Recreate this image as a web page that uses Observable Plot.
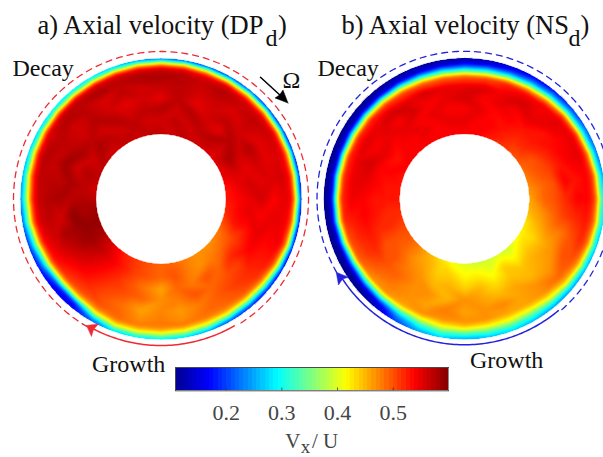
<!DOCTYPE html>
<html>
<head>
<meta charset="utf-8">
<script src="https://cdn.jsdelivr.net/npm/d3@7"></script>
<script src="https://cdn.jsdelivr.net/npm/@observablehq/plot@0.6"></script>
<style>
html,body{margin:0;padding:0;background:#fff}
#fig{position:relative;width:603px;height:457px;overflow:hidden}
#fig svg{position:absolute;background:transparent}
</style>
</head>
<body>
<div id="fig"></div>
<script>
// angle clockwise from the top of the annulus, one column every 10 degrees
const angles = d3.range(0, 360, 10);
// radius as a fraction of the outer radius
const ringRadii = [1, .985, .97, .955, .94, .92, .90, .87, .80, .72, .64, .56, .459];

// Panel a) DPd: axial velocity per ring
const aR100 = [.20,.20,.19,.19,.19,.18,.18,.17,.17,.16,.16,.16,.16,.17,.18,.20,.24,.27,.28,.28,.27,.21,.165,.165,.175,.19,.21,.23,.25,.26,.27,.28,.28,.28,.26,.23];
const aR985 = [.29,.29,.28,.28,.28,.27,.26,.26,.25,.25,.24,.24,.23,.22,.22,.24,.28,.30,.31,.31,.30,.23,.165,.165,.19,.22,.25,.27,.28,.30,.30,.31,.31,.31,.30,.30];
const aR97 = [.38,.38,.37,.37,.37,.36,.35,.35,.34,.34,.33,.33,.30,.28,.28,.30,.33,.35,.36,.36,.35,.27,.17,.17,.22,.26,.30,.31,.33,.35,.36,.37,.37,.37,.37,.38];
const aR955 = [.46,.46,.45,.45,.45,.45,.44,.44,.43,.43,.42,.42,.38,.35,.34,.36,.38,.40,.40,.41,.40,.33,.20,.20,.26,.31,.35,.37,.40,.42,.44,.45,.45,.45,.46,.46];
const aR94 = [.52,.52,.51,.52,.51,.51,.51,.50,.50,.50,.49,.48,.44,.41,.40,.41,.42,.43,.44,.44,.44,.39,.27,.26,.31,.36,.41,.43,.46,.48,.50,.51,.52,.52,.52,.52];
const aR92 = [.56,.56,.55,.56,.55,.55,.55,.54,.54,.54,.53,.52,.50,.47,.46,.46,.46,.47,.47,.47,.47,.44,.38,.36,.40,.44,.49,.50,.52,.54,.55,.56,.56,.56,.56,.56];
const aR90 = [.57,.57,.56,.57,.56,.56,.56,.55,.55,.55,.54,.54,.52,.50,.49,.48,.48,.48,.48,.48,.49,.48,.46,.45,.48,.51,.53,.54,.55,.56,.56,.57,.57,.57,.57,.57];
const aR87 = [.58,.575,.565,.575,.565,.57,.56,.555,.56,.55,.55,.545,.53,.515,.50,.49,.485,.47,.48,.47,.49,.50,.50,.51,.53,.545,.56,.565,.57,.575,.565,.575,.57,.58,.57,.58];
const aR80 = [.565,.57,.56,.565,.555,.565,.55,.55,.555,.54,.55,.54,.53,.52,.51,.495,.48,.465,.475,.46,.485,.50,.52,.53,.55,.56,.57,.575,.57,.565,.57,.56,.57,.555,.57,.56];
const aR72 = [.55,.57,.55,.56,.57,.56,.575,.56,.55,.56,.54,.55,.54,.51,.50,.49,.50,.48,.47,.49,.50,.51,.53,.55,.565,.58,.56,.58,.57,.585,.57,.56,.575,.56,.55,.56];
const aR64 = [.575,.56,.575,.56,.55,.575,.56,.55,.56,.55,.55,.53,.52,.52,.49,.50,.48,.49,.46,.48,.50,.52,.54,.56,.58,.585,.59,.57,.58,.56,.58,.57,.56,.575,.56,.57];
const aR56 = [.56,.57,.56,.57,.575,.56,.58,.56,.55,.54,.54,.53,.50,.49,.48,.47,.48,.50,.49,.50,.51,.53,.55,.57,.585,.59,.58,.575,.57,.575,.56,.58,.57,.56,.57,.56];
const aR46 = [.57,.56,.57,.56,.56,.55,.55,.55,.53,.53,.52,.50,.48,.47,.47,.47,.48,.49,.49,.50,.51,.52,.54,.56,.58,.59,.585,.57,.56,.57,.57,.56,.56,.57,.56,.57];

// Panel b) NSd: axial velocity per ring
const bR100 = [.12,.13,.14,.16,.17,.19,.21,.22,.24,.26,.27,.26,.25,.24,.24,.25,.27,.26,.25,.27,.24,.20,.14,.115,.11,.11,.11,.115,.115,.115,.115,.115,.115,.12,.12,.12];
const bR985 = [.13,.14,.16,.18,.20,.22,.24,.25,.27,.29,.30,.29,.28,.27,.27,.28,.29,.28,.27,.29,.26,.21,.13,.11,.11,.11,.11,.11,.11,.11,.11,.11,.115,.12,.12,.125];
const bR97 = [.15,.16,.18,.21,.23,.25,.27,.29,.31,.33,.34,.33,.32,.31,.30,.30,.31,.31,.30,.31,.28,.22,.14,.115,.11,.11,.115,.115,.115,.115,.12,.12,.12,.13,.135,.14];
const bR955 = [.18,.19,.21,.24,.27,.30,.32,.35,.38,.40,.41,.40,.38,.36,.34,.33,.34,.34,.34,.34,.30,.25,.17,.14,.13,.13,.14,.135,.14,.14,.145,.15,.15,.16,.165,.17];
const bR94 = [.22,.24,.26,.29,.33,.37,.40,.43,.46,.47,.47,.45,.43,.41,.38,.36,.37,.37,.37,.37,.33,.28,.22,.19,.17,.18,.19,.18,.19,.19,.20,.20,.20,.21,.21,.22];
const bR92 = [.29,.30,.33,.37,.42,.47,.49,.50,.51,.51,.50,.49,.47,.45,.42,.40,.41,.41,.42,.41,.38,.33,.30,.27,.25,.27,.29,.29,.30,.30,.30,.30,.30,.30,.29,.29];
const bR90 = [.37,.39,.43,.46,.49,.52,.53,.53,.53,.53,.52,.51,.49,.47,.45,.43,.43,.44,.45,.44,.42,.40,.38,.35,.35,.39,.42,.42,.41,.42,.41,.42,.41,.40,.38,.37];
const bR87 = [.49,.50,.52,.53,.54,.55,.55,.55,.54,.54,.53,.52,.50,.49,.47,.46,.46,.47,.47,.47,.47,.46,.47,.47,.49,.50,.52,.52,.52,.52,.52,.52,.51,.50,.49,.49];
const bR80 = [.55,.555,.545,.56,.545,.55,.54,.545,.53,.54,.52,.50,.50,.47,.47,.46,.475,.47,.46,.48,.46,.47,.48,.49,.51,.52,.53,.545,.55,.55,.555,.55,.56,.55,.56,.55];
const bR72 = [.56,.54,.55,.54,.55,.53,.535,.53,.54,.52,.51,.48,.47,.46,.45,.46,.45,.46,.47,.45,.47,.47,.49,.50,.52,.53,.54,.54,.55,.56,.54,.55,.54,.56,.54,.55];
const bR64 = [.54,.55,.535,.54,.53,.53,.52,.51,.50,.50,.49,.475,.455,.455,.445,.445,.43,.45,.44,.455,.45,.47,.48,.50,.50,.52,.53,.53,.54,.54,.55,.54,.55,.54,.55,.54];
const bR56 = [.55,.54,.54,.53,.52,.52,.50,.50,.49,.49,.47,.455,.435,.44,.42,.44,.41,.425,.42,.44,.44,.46,.47,.49,.50,.52,.52,.53,.53,.54,.53,.54,.54,.55,.54,.55];
const bR46 = [.54,.54,.53,.52,.51,.50,.49,.48,.47,.46,.45,.43,.42,.41,.39,.40,.39,.39,.40,.41,.43,.45,.47,.49,.50,.51,.52,.53,.53,.53,.54,.54,.54,.54,.54,.54];

const aRings = [aR100,aR985,aR97,aR955,aR94,aR92,aR90,aR87,aR80,aR72,aR64,aR56,aR46];
const bRings = [bR100,bR985,bR97,bR955,bR94,bR92,bR90,bR87,bR80,bR72,bR64,bR56,bR46];

// colour bar
const colorDomain = [0.109, 0.6];
const colorTicks = [0.2, 0.3, 0.4, 0.5];
const jetStops = ["#00008f","#0000ff","#0080ff","#00ffff","#80ff80","#ffff00","#ff8000","#ff0000","#800000"];
const barSteps = 64;

// layout
const serif = "'Liberation Serif','Times New Roman',serif";
const outerR = 141, holeR = 64.6, guideR = 147.5;
const centerA = [160.5, 198.5], centerB = [464, 198.3];
const red = "#ee2b33", blue = "#2222dd";

const jet = d3.piecewise(d3.interpolateRgb, jetStops);
const color = {type: "linear", domain: colorDomain, interpolate: jet, clamp: true};

function cells(rings, c) {
  return rings.flatMap((vals, k) => vals.map((v, i) => {
    const t = angles[i] * Math.PI / 180, r = ringRadii[k] * outerR;
    return {x: c[0] + r * Math.sin(t), y: c[1] - r * Math.cos(t), v};
  }));
}
// barycentric interpolation, softened a little, with everything off the annulus left empty
function annulus(c) {
  const base = Plot.interpolatorBarycentric();
  return (index, w, h, X, Y, V) => {
    const W = Float64Array.from(base(index, w, h, X, Y, V));
    if (d3.blur2) d3.blur2({data: W, width: w, height: h}, 0.8);
    for (let j = 0, i = 0; j < h; ++j) for (let k = 0; k < w; ++k, ++i) {
      const d = Math.hypot(k + .5 - c[0], j + .5 - c[1]);
      if (d > outerR || d < holeR) W[i] = NaN;
    }
    return W;
  };
}
function arc(c, r, from, to) {
  return d3.range(from, to + 0.5, 1).map(d => {
    const t = d * Math.PI / 180;
    return {x: c[0] + r * Math.sin(t), y: c[1] - r * Math.cos(t)};
  });
}
const heads = [
  {color: red, pts: [[86,325],[98,323.5],[93,329],[91,336],[86,325]]},
  {color: blue, pts: [[335.7,271.7],[348,276.7],[342,278.5],[338,284.5],[335.7,271.7]]},
  {color: "black", pts: [[287.5,102.5],[274.5,97.5],[279,94.5],[282.5,89.5],[287.5,102.5]]}
];
const labels = [
  {t: "a) Axial velocity (DP", x: 37, y: 33, s: 26.5},
  {t: "d", x: 265, y: 45, s: 24},
  {t: ")", x: 277.5, y: 33, s: 26.5},
  {t: "b) Axial velocity (NS", x: 341, y: 33, s: 26.5},
  {t: "d", x: 568, y: 45, s: 24},
  {t: ")", x: 580, y: 33, s: 26.5},
  {t: "Decay", x: 12, y: 75, s: 24},
  {t: "Decay", x: 317, y: 75, s: 24},
  {t: "Growth", x: 91.5, y: 371, s: 24},
  {t: "Growth", x: 469.5, y: 367, s: 24},
  {t: "Ω", x: 282, y: 87, s: 24}
];

const main = Plot.plot({
  width: 603, height: 457, margin: 0,
  x: {domain: [0, 603], range: [0, 603], axis: null},
  y: {domain: [0, 457], range: [0, 457], axis: null},
  color,
  marks: [
    Plot.raster(cells(aRings, centerA), {x: "x", y: "y", fill: "v", interpolate: annulus(centerA)}),
    Plot.raster(cells(bRings, centerB), {x: "x", y: "y", fill: "v", interpolate: annulus(centerB)}),
    // soften the pixel edges of the annuli
    Plot.dot([centerA, centerB], {x: d => d[0], y: d => d[1], r: outerR + 0.4, stroke: "white", strokeWidth: 1, fill: "none"}),
    Plot.dot([centerA, centerB], {x: d => d[0], y: d => d[1], r: holeR - 0.4, stroke: "white", strokeWidth: 1, fill: "none"}),
    Plot.line(arc(centerA, guideR, 210, 509), {x: "x", y: "y", stroke: red, strokeWidth: 1.3, strokeDasharray: "6,5"}),
    Plot.line(arc(centerA, guideR - 1, 150, 208), {x: "x", y: "y", stroke: red, strokeWidth: 1.5}),
    Plot.line(arc(centerB, guideR, 240, 500), {x: "x", y: "y", stroke: blue, strokeWidth: 1.3, strokeDasharray: "6,5"}),
    Plot.line(arc(centerB, guideR - 1.5, 140, 237), {x: "x", y: "y", stroke: blue, strokeWidth: 1.5}),
    Plot.line([[260, 76.7], [281, 96]], {x: d => d[0], y: d => d[1], stroke: "black", strokeWidth: 1.5}),
    ...heads.map(h => Plot.line(h.pts, {x: d => d[0], y: d => d[1], fill: h.color, stroke: h.color, strokeWidth: 0.5})),
    Plot.text(labels, {x: "x", y: "y", text: "t", fontSize: "s", fontFamily: serif, textAnchor: "start", lineAnchor: "bottom", fill: "#111"})
  ]
});
main.style.left = "0"; main.style.top = "0";

const barW = 273.4, barH = 23.3, barL = 175.3, barT = 366.7;
const steps = d3.range(barSteps).map(i => {
  const w = (colorDomain[1] - colorDomain[0]) / barSteps;
  return {a: colorDomain[0] + i * w, b: colorDomain[0] + (i + 1) * w, v: colorDomain[0] + (i + .5) * w};
});
const bar = Plot.plot({
  width: barW, height: 90, marginTop: 0, marginLeft: 0, marginRight: 0, marginBottom: 90 - barH,
  x: {domain: colorDomain, axis: null},
  y: {domain: [0, 1], axis: null},
  color,
  marks: [
    Plot.rect(steps, {x1: "a", x2: "b", y1: 0, y2: 1, fill: "v", shapeRendering: "crispEdges"}),
    Plot.frame({stroke: "#4a4a4a", strokeWidth: 1}),
    Plot.ruleX(colorTicks, {y1: 0, y2: 0.12, stroke: "#333", strokeWidth: 0.8}),
    Plot.axisX({ticks: colorTicks, tickSize: 0, tickPadding: 0, tickFormat: ".1f", label: null, fontFamily: serif, fontSize: 22, color: "#444", dy: 22, lineAnchor: "middle"}),
    Plot.text(["V"], {x: 0.306, y: 0, text: d => d, dy: 57, fontFamily: serif, fontSize: 21, fill: "#444", lineAnchor: "bottom", textAnchor: "start"}),
    Plot.text(["x"], {x: 0.334, y: 0, text: d => d, dy: 62, fontFamily: serif, fontSize: 19, fill: "#444", lineAnchor: "bottom", textAnchor: "start"}),
    Plot.text(["/ U"], {x: 0.354, y: 0, text: d => d, dy: 57, fontFamily: serif, fontSize: 21, fill: "#444", lineAnchor: "bottom", textAnchor: "start"})
  ]
});
bar.style.left = barL + "px"; bar.style.top = barT + "px";

const fig = document.getElementById("fig");
fig.append(main, bar);
</script>
</body>
</html>
